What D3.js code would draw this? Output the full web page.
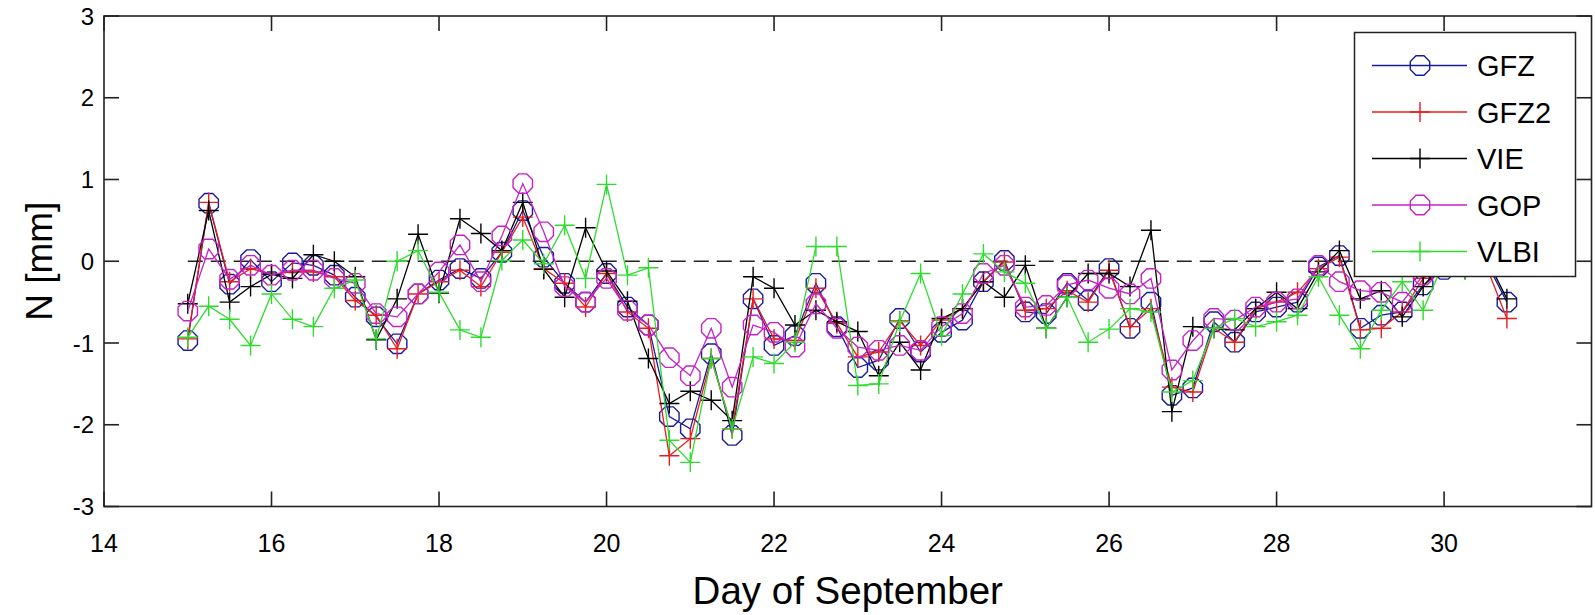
<!DOCTYPE html>
<html>
<head>
<meta charset="utf-8">
<script src="https://cdn.jsdelivr.net/npm/d3@7"></script>
<style>
  body { margin: 0; background: #fff; }
  svg { display: block; font-family: "Liberation Sans", Arial, sans-serif; }
</style>
</head>
<body>
<svg id="chart"></svg>
<script>
// days of September (6-hourly)
var days = [15, 15.25, 15.5, 15.75, 16, 16.25, 16.5, 16.75, 17, 17.25, 17.5, 17.75,
  18, 18.25, 18.5, 18.75, 19, 19.25, 19.5, 19.75, 20, 20.25, 20.5, 20.75,
  21, 21.25, 21.5, 21.75, 22, 22.25, 22.5, 22.75, 23, 23.25, 23.5, 23.75,
  24, 24.25, 24.5, 24.75, 25, 25.25, 25.5, 25.75, 26, 26.25, 26.5, 26.75,
  27, 27.25, 27.5, 27.75, 28, 28.25, 28.5, 28.75, 29, 29.25, 29.5, 29.75,
  30, 30.25, 30.5, 30.75];

var gfz = [-0.97, 0.71, -0.28, 0.02, -0.25, -0.02, -0.05, -0.17, -0.44, -0.68, -1.01, -0.4,
  -0.23, -0.09, -0.21, 0.11, 0.62, 0.05, -0.27, -0.5, -0.15, -0.56, -0.78, -1.9,
  -2.05, -1.13, -2.13, -0.46, -1.03, -0.91, -0.27, -0.8, -1.3, -1.21, -0.7, -1.11,
  -0.87, -0.72, -0.25, 0.01, -0.62, -0.64, -0.27, -0.48, -0.09, -0.82, -0.5, -1.64,
  -1.55, -0.74, -0.99, -0.62, -0.56, -0.5, -0.07, 0.07, -0.82, -0.66, -0.62, -0.29,
  -0.1, 0.1, 0.0, -0.5];

var gfz2 = [-0.95, 0.72, -0.25, -0.09, -0.16, -0.13, -0.13, -0.19, -0.48, -0.66, -1.07, -0.4,
  -0.25, -0.11, -0.31, 0.11, 0.54, -0.09, -0.27, -0.56, -0.15, -0.62, -0.82, -2.38,
  -2.17, -1.19, -2.05, -0.46, -0.95, -0.97, -0.33, -0.76, -1.17, -1.11, -0.73, -1.03,
  -0.72, -0.58, -0.25, -0.01, -0.6, -0.58, -0.36, -0.5, -0.11, -0.8, -0.58, -1.54,
  -1.6, -0.82, -0.99, -0.58, -0.5, -0.38, -0.09, 0.05, -0.84, -0.82, -0.62, -0.21,
  -0.05, 0.05, -0.05, -0.7];

var vie = [-0.52, 0.62, -0.5, -0.31, -0.16, -0.21, 0.08, 0.0, -0.19, -0.96, -0.46, 0.33,
  -0.39, 0.52, 0.34, 0.13, 0.72, -0.1, -0.44, 0.41, -0.12, -0.49, -1.19, -1.74,
  -1.59, -1.7, -1.95, -0.19, -0.33, -0.78, -0.6, -0.74, -0.86, -1.4, -0.99, -1.33,
  -0.7, -0.58, -0.25, -0.44, -0.05, -0.82, -0.44, -0.15, -0.15, -0.31, 0.38, -1.84,
  -0.8, -0.82, -0.84, -0.58, -0.38, -0.58, -0.13, 0.13, -0.46, -0.36, -0.68, -0.31,
  0.0, -0.1, 0.05, -0.46];

var gop = [-0.61, 0.15, -0.22, -0.05, -0.17, -0.11, -0.11, -0.21, -0.27, -0.64, -0.68, -0.4,
  -0.13, 0.2, -0.25, 0.31, 0.95, 0.36, -0.31, -0.5, -0.21, -0.6, -0.78, -1.18,
  -1.4, -0.82, -1.54, -0.78, -0.87, -1.05, -0.52, -0.82, -1.05, -1.09, -1.03, -1.09,
  -0.8, -0.64, -0.15, -0.05, -0.56, -0.54, -0.29, -0.23, -0.33, -0.4, -0.21, -1.33,
  -0.97, -0.7, -0.72, -0.56, -0.5, -0.46, -0.05, -0.25, -0.36, -0.38, -0.5, -0.17,
  -0.05, 0.0, -0.05, null];

var vlbi = [-0.93, -0.55, -0.71, -1.03, -0.4, -0.71, -0.8, -0.33, -0.23, -0.95, 0.0, 0.13,
  -0.38, -0.84, -0.93, 0.01, 0.26, -0.03, 0.44, -0.21, 0.94, -0.17, -0.08, -2.19,
  -2.46, -1.19, -2.05, -1.17, -1.25, -0.99, 0.18, 0.18, -1.52, -1.5, -0.74, -0.15,
  -0.91, -0.4, 0.09, -0.13, -0.27, -0.82, -0.44, -0.99, -0.83, -0.58, -0.62, -1.6,
  -1.46, -0.82, -0.7, -0.8, -0.74, -0.66, -0.19, -0.66, -1.07, -0.6, -0.25, -0.6,
  0.0, -0.1, null, null];

var seriesNames = ["GFZ", "GFZ2", "VIE", "GOP", "VLBI"];
var seriesValues = [gfz, gfz2, vie, gop, vlbi];
var seriesColors = ["#1a1aa0", "#ea1c1c", "#000000", "#c622c6", "#2edc2e"];
var seriesMarkers = ["circle", "plus", "plus", "circle", "plus"];

var xTicks = [14, 16, 18, 20, 22, 24, 26, 28, 30];
var yTicks = [-3, -2, -1, 0, 1, 2, 3];

function init() {
  var width = 1595;
  var height = 615;
  var box = { left: 104, right: 1591.5, top: 16, bottom: 506.5 };

  var svg = d3.select("#chart").attr("width", width).attr("height", height);

  var xScale = d3.scaleLinear().domain([14, 31.76]).range([box.left, box.right]);
  var yScale = d3.scaleLinear().domain([-3, 3]).range([box.bottom, box.top]);

  // octagon looking circle marker, like the matlab jpeg
  var octo = d3.range(8).map(function (k) {
    var a = (k * 45 + 22.5) * Math.PI / 180;
    return [10.5 * Math.cos(a), 10.5 * Math.sin(a)];
  });
  var octoPath = "M" + octo.map(function (p) { return p[0].toFixed(2) + "," + p[1].toFixed(2); }).join("L") + "Z";
  var plusPath = "M-10,0H10M0,-10V10";

  // zero reference line
  svg.append("line")
    .attr("x1", xScale(days[0])).attr("x2", xScale(days[days.length - 1]))
    .attr("y1", yScale(0)).attr("y2", yScale(0))
    .attr("stroke", "#222").attr("stroke-width", 1.7)
    .attr("stroke-dasharray", "15,8");

  var line = d3.line()
    .defined(function (d) { return d.v != null; })
    .x(function (d) { return xScale(d.day); })
    .y(function (d) { return yScale(d.v); });

  seriesNames.forEach(function (name, s) {
    var pts = days.map(function (day, i) { return { day: day, v: seriesValues[s][i] }; });
    var g = svg.append("g").attr("class", "series " + name);
    g.append("path").datum(pts)
      .attr("d", line)
      .attr("fill", "none")
      .attr("stroke", seriesColors[s])
      .attr("stroke-width", 1.3);
    g.selectAll("path.mk").data(pts.filter(function (d) { return d.v != null; }))
      .enter().append("path").attr("class", "mk")
      .attr("transform", function (d) { return "translate(" + xScale(d.day) + "," + yScale(d.v) + ")"; })
      .attr("d", seriesMarkers[s] == "circle" ? octoPath : plusPath)
      .attr("fill", "none")
      .attr("stroke", seriesColors[s])
      .attr("stroke-width", 1.4);
  });

  // axes box with inward ticks on all sides
  var axes = svg.append("g").attr("stroke", "#222").attr("stroke-width", 1.6);
  axes.append("rect")
    .attr("x", box.left).attr("y", box.top)
    .attr("width", box.right - box.left).attr("height", box.bottom - box.top)
    .attr("fill", "none");
  xTicks.forEach(function (t) {
    axes.append("line").attr("x1", xScale(t)).attr("x2", xScale(t)).attr("y1", box.bottom).attr("y2", box.bottom - 15);
    axes.append("line").attr("x1", xScale(t)).attr("x2", xScale(t)).attr("y1", box.top).attr("y2", box.top + 15);
  });
  yTicks.forEach(function (t) {
    axes.append("line").attr("x1", box.left).attr("x2", box.left + 15).attr("y1", yScale(t)).attr("y2", yScale(t));
    axes.append("line").attr("x1", box.right).attr("x2", box.right - 15).attr("y1", yScale(t)).attr("y2", yScale(t));
  });

  svg.append("g").selectAll("text").data(xTicks).enter().append("text")
    .attr("x", function (d) { return xScale(d); })
    .attr("y", 552)
    .attr("text-anchor", "middle")
    .attr("font-size", 25)
    .text(function (d) { return d; });

  svg.append("g").selectAll("text").data(yTicks).enter().append("text")
    .attr("x", 94)
    .attr("y", function (d) { return yScale(d) + 8.5; })
    .attr("text-anchor", "end")
    .attr("font-size", 24)
    .text(function (d) { return d; });

  svg.append("text")
    .attr("x", (box.left + box.right) / 2)
    .attr("y", 604)
    .attr("text-anchor", "middle")
    .attr("font-size", 38.5)
    .text("Day of September");

  svg.append("text")
    .attr("transform", "translate(52," + ((box.top + box.bottom) / 2) + ") rotate(-90)")
    .attr("text-anchor", "middle")
    .attr("font-size", 37)
    .text("N [mm]");

  // legend
  var leg = svg.append("g").attr("class", "legend");
  leg.append("rect")
    .attr("x", 1354.5).attr("y", 32.5).attr("width", 221).attr("height", 244)
    .attr("fill", "#fff").attr("stroke", "#222").attr("stroke-width", 1.5);
  seriesNames.forEach(function (name, s) {
    var cy = 65.5 + s * 46.5;
    leg.append("line").attr("x1", 1372).attr("x2", 1467).attr("y1", cy).attr("y2", cy)
      .attr("stroke", seriesColors[s]).attr("stroke-width", 1.3);
    leg.append("path").attr("transform", "translate(1420," + cy + ")")
      .attr("d", seriesMarkers[s] == "circle" ? octoPath : plusPath)
      .attr("fill", "none").attr("stroke", seriesColors[s]).attr("stroke-width", 1.4);
    leg.append("text").attr("x", 1477).attr("y", cy + 10.5)
      .attr("font-size", 29).text(name);
  });
}

init();
</script>
</body>
</html>
